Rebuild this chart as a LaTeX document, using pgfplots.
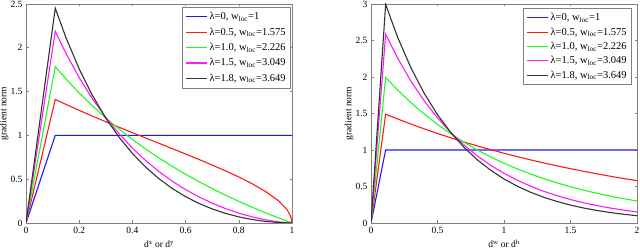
\documentclass[border=0pt]{standalone}
\usepackage{fontspec}
\setmainfont{Liberation Serif}
\usepackage{pgfplots}
\pgfplotsset{compat=1.18}
\definecolor{mblue}{rgb}{0.1,0.1,1}
\definecolor{mred}{rgb}{1,0.1,0.1}
\definecolor{mgreen}{rgb}{0.1,1,0.1}
\definecolor{mmag}{rgb}{1,0.1,1}
\definecolor{mblack}{rgb}{0.2,0.2,0.2}
\pgfplotsset{
 mystyle/.style={
  scale only axis, width=266pt, height=219pt,
  axis line style={black!50, line width=0.6pt},
  every tick/.style={black!50, line width=0.6pt},
  tick align=inside, xtick pos=both, ytick pos=both,
  major tick length=2.5pt,
  /pgf/number format/assume math mode=true,
  tick label style={font=\fontsize{9.5}{11}\selectfont},
  xticklabel style={yshift=-1pt},
  every axis plot/.append style={line width=1.1pt},
  legend style={draw=black!50, line width=0.6pt, font=\fontsize{10.5}{12}\selectfont,
    anchor=north east, cells={anchor=west}, inner xsep=3pt, inner ysep=3pt, row sep=2.5pt},
  legend image code/.code={\draw[##1] (0pt,0pt) -- (21pt,0pt);},
  ylabel={gradient norm},
  ylabel style={at={(axis description cs:-0.082,0.5)}, anchor=center},
  xlabel style={at={(axis description cs:0.5,-0.114)}, anchor=base},
 }
}
\begin{document}
\begin{tikzpicture}[font=\fontsize{9.5}{11}\selectfont]
\useasboundingbox (0pt,0pt) rectangle (640pt,251pt);
\begin{axis}[mystyle, at={(26pt,28pt)}, anchor=south west,
  xmin=0, xmax=1, ymin=0, ymax=2.5,
  xtick={0,0.2,0.4,0.6,0.8,1}, ytick={0,0.5,1,1.5,2,2.5},
  xlabel={d\textsuperscript{x} or d\textsuperscript{y}},
  legend style={at={(0.996,0.986)}}]
\addplot[mblue] coordinates {(0,0) (0.11,1) (1,1)};
\addlegendentry{λ=0, w\textsubscript{loc}=1}
\addplot[mred] coordinates {(0,0) (0.11,1.4103) (0.15,1.3541) (0.2,1.2860) (0.25,1.2200) (0.3,1.1557) (0.35,1.0929) (0.4,1.0311) (0.45,0.9700) (0.5,0.9093) (0.55,0.8486) (0.6,0.7875) (0.65,0.7254) (0.7,0.6616) (0.75,0.5953) (0.8,0.5250) (0.85,0.4485) (0.9,0.3613) (0.95,0.2522) (0.98,0.1583) (0.995,0.0788) (1,0)};
\addlegendentry{λ=0.5, w\textsubscript{loc}=1.575}
\addplot[mgreen] coordinates {(0,0) (0.11,1.7848) (0.15,1.6453) (0.2,1.4840) (0.25,1.3356) (0.3,1.1986) (0.35,1.0718) (0.4,0.9540) (0.45,0.8443) (0.5,0.7420) (0.55,0.6463) (0.6,0.5565) (0.65,0.4722) (0.7,0.3928) (0.75,0.3180) (0.8,0.2473) (0.85,0.1805) (0.9,0.1172) (0.95,0.0571) (1,0)};
\addlegendentry{λ=1.0, w\textsubscript{loc}=2.226}
\addplot[mmag] coordinates {(0,0) (0.11,2.1891) (0.15,1.9375) (0.2,1.6597) (0.25,1.4171) (0.3,1.2047) (0.35,1.0187) (0.4,0.8554) (0.45,0.7123) (0.5,0.5868) (0.55,0.4770) (0.6,0.3811) (0.65,0.2979) (0.7,0.2260) (0.75,0.1646) (0.8,0.1129) (0.85,0.0704) (0.9,0.0368) (0.95,0.0125) (1,0)};
\addlegendentry{λ=1.5, w\textsubscript{loc}=3.049}
\addplot[mblack] coordinates {(0,0) (0.11,2.4519) (0.15,2.1177) (0.2,1.7587) (0.25,1.4550) (0.3,1.1974) (0.35,0.9790) (0.4,0.7940) (0.45,0.6372) (0.5,0.5051) (0.55,0.3939) (0.6,0.3009) (0.65,0.2238) (0.7,0.1607) (0.75,0.1099) (0.8,0.0699) (0.85,0.0396) (0.9,0.0182) (0.95,0.0050) (1,0)};
\addlegendentry{λ=1.8, w\textsubscript{loc}=3.649}
\end{axis}
\begin{axis}[mystyle, at={(371pt,28pt)}, anchor=south west,
  xmin=0, xmax=2, ymin=0, ymax=3,
  xtick={0,0.5,1,1.5,2}, ytick={0,0.5,1,1.5,2,2.5,3},
  xlabel={d\textsuperscript{w} or d\textsuperscript{h}},
  legend style={at={(0.981,0.982)}, row sep=1.5pt}]
\addplot[mblue] coordinates {(0,0) (0.11,1) (2,1)};
\addlegendentry{λ=0, w\textsubscript{loc}=1}
\addplot[mred] coordinates {(0,0) (0.11,1.4907) (0.2,1.4251) (0.3,1.3556) (0.4,1.2895) (0.5,1.2266) (0.6,1.1668) (0.7,1.1099) (0.8,1.0558) (0.9,1.0043) (1.0,0.9553) (1.1,0.9087) (1.2,0.8644) (1.3,0.8222) (1.4,0.7821) (1.5,0.7440) (1.6,0.7077) (1.7,0.6732) (1.8,0.6403) (1.9,0.6091) (2.0,0.5794)};
\addlegendentry{λ=0.5, w\textsubscript{loc}=1.575}
\addplot[mgreen] coordinates {(0,0) (0.11,1.9941) (0.2,1.8225) (0.3,1.6491) (0.4,1.4921) (0.5,1.3501) (0.6,1.2217) (0.7,1.1054) (0.8,1.0002) (0.9,0.9050) (1.0,0.8189) (1.1,0.7410) (1.2,0.6705) (1.3,0.6067) (1.4,0.5489) (1.5,0.4967) (1.6,0.4494) (1.7,0.4067) (1.8,0.3680) (1.9,0.3329) (2.0,0.3013)};
\addlegendentry{λ=1.0, w\textsubscript{loc}=2.226}
\addplot[mmag] coordinates {(0,0) (0.11,2.5852) (0.2,2.2588) (0.3,1.9441) (0.4,1.6733) (0.5,1.4402) (0.6,1.2396) (0.7,1.0670) (0.8,0.9183) (0.9,0.7904) (1.0,0.6803) (1.1,0.5856) (1.2,0.5040) (1.3,0.4338) (1.4,0.3734) (1.5,0.3214) (1.6,0.2766) (1.7,0.2381) (1.8,0.2049) (1.9,0.1764) (2.0,0.1518)};
\addlegendentry{λ=1.5, w\textsubscript{loc}=3.049}
\addplot[mblack] coordinates {(0,0) (0.11,2.9935) (0.2,2.5458) (0.3,2.1264) (0.4,1.7762) (0.5,1.4836) (0.6,1.2392) (0.7,1.0351) (0.8,0.8646) (0.9,0.7221) (1.0,0.6032) (1.1,0.5038) (1.2,0.4208) (1.3,0.3515) (1.4,0.2936) (1.5,0.2452) (1.6,0.2048) (1.7,0.1711) (1.8,0.1429) (1.9,0.1194) (2.0,0.0997)};
\addlegendentry{λ=1.8, w\textsubscript{loc}=3.649}
\end{axis}
\end{tikzpicture}
\end{document}
